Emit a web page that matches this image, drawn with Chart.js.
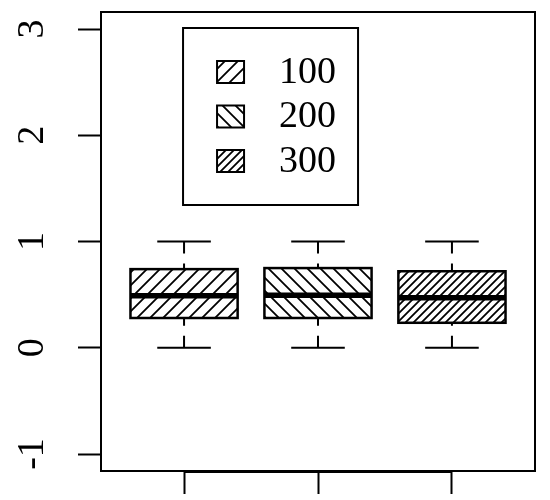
<!DOCTYPE html>
<html>
<head>
<meta charset="utf-8">
<script src="https://cdn.jsdelivr.net/npm/chart.js@4"></script>
<style>
  html, body { margin: 0; padding: 0; background: #fff; }
  #wrap { width: 550px; height: 500px; }
</style>
</head>
<body>
<div id="wrap"><canvas id="myChart" width="550" height="500"></canvas></div>
<script>
// box plot values
const groups = ['100', '200', '300'];
const lower = [0, 0, 0];
const q1 = [0.28, 0.28, 0.235];
const median = [0.49, 0.495, 0.47];
const q3 = [0.74, 0.75, 0.72];
const upper = [1, 1, 1];
const yTicks = [-1, 0, 1, 2, 3];

const FONT = '"Liberation Serif", "DejaVu Serif", serif';

// hatch fills like R's density/angle
function hatch(step, dir) {
  const c = document.createElement('canvas');
  c.width = step; c.height = step;
  const g = c.getContext('2d');
  g.fillStyle = '#fff';
  g.fillRect(0, 0, step, step);
  g.strokeStyle = '#000';
  g.lineWidth = 1.8;
  g.beginPath();
  if (dir > 0) {
    g.moveTo(0, step); g.lineTo(step, 0);
    g.moveTo(-2, 2); g.lineTo(2, -2);
    g.moveTo(step - 2, step + 2); g.lineTo(step + 2, step - 2);
  } else {
    g.moveTo(0, 0); g.lineTo(step, step);
    g.moveTo(-2, step - 2); g.lineTo(2, step + 2);
    g.moveTo(step - 2, -2); g.lineTo(step + 2, 2);
  }
  g.stroke();
  return g.createPattern(c, 'repeat');
}

const ctx = document.getElementById('myChart').getContext('2d');
const fills = [hatch(13, 1), hatch(13, -1), hatch(8, 1)];

// whiskers, medians, box outlines, frame, rotated y labels and legend
const boxExtras = {
  id: 'boxExtras',
  afterDatasetsDraw(chart) {
    const c = chart.ctx;
    const xs = chart.scales.x, ys = chart.scales.y;
    const area = chart.chartArea;
    const bars = chart.getDatasetMeta(0).data;
    c.save();
    c.strokeStyle = '#000';
    groups.forEach((g, i) => {
      const x = xs.getPixelForValue(i + 1);
      const half = bars[i].width / 2;
      const cap = xs.getPixelForValue(i + 1.2) - x;
      // dashed whiskers, drawn from the ends toward the box
      c.lineWidth = 2;
      c.setLineDash([12, 10]);
      c.beginPath();
      c.moveTo(x, ys.getPixelForValue(upper[i]));
      c.lineTo(x, ys.getPixelForValue(q3[i]));
      c.moveTo(x, ys.getPixelForValue(lower[i]));
      c.lineTo(x, ys.getPixelForValue(q1[i]));
      c.stroke();
      c.setLineDash([]);
      // caps
      c.beginPath();
      c.moveTo(x - cap, ys.getPixelForValue(upper[i]));
      c.lineTo(x + cap, ys.getPixelForValue(upper[i]));
      c.moveTo(x - cap, ys.getPixelForValue(lower[i]));
      c.lineTo(x + cap, ys.getPixelForValue(lower[i]));
      c.stroke();
      // box outline
      c.lineWidth = 2.5;
      const top = ys.getPixelForValue(q3[i]);
      const bot = ys.getPixelForValue(q1[i]);
      c.strokeRect(x - half, top, half * 2, bot - top);
      // median
      c.lineWidth = 5.5;
      c.beginPath();
      c.moveTo(x - half, ys.getPixelForValue(median[i]));
      c.lineTo(x + half, ys.getPixelForValue(median[i]));
      c.stroke();
    });

    // plot frame
    c.lineWidth = 2;
    c.strokeRect(area.left, area.top, area.right - area.left, area.bottom - area.top);
    c.beginPath();
    c.moveTo(xs.getPixelForValue(1), area.bottom + 1);
    c.lineTo(xs.getPixelForValue(groups.length), area.bottom + 1);
    c.stroke();

    // y labels, parallel to the axis
    c.fillStyle = '#000';
    c.font = '38px ' + FONT;
    c.textAlign = 'center';
    c.textBaseline = 'middle';
    yTicks.forEach(v => {
      c.save();
      c.translate(33, ys.getPixelForValue(v));
      c.rotate(-Math.PI / 2);
      c.fillText(String(v), 0, 0);
      c.restore();
    });

    // legend box anchored at (1, 3)
    const lx = xs.getPixelForValue(1) - 1;
    const ly = ys.getPixelForValue(3) - 1;
    c.lineWidth = 2;
    c.strokeRect(lx, ly, 175, 177);
    c.textAlign = 'left';
    groups.forEach((g, i) => {
      const cy = ly + 44 + i * 44.5;
      c.fillStyle = fills[i];
      c.fillRect(lx + 34, cy - 11, 27, 22);
      c.lineWidth = 2;
      c.strokeRect(lx + 34, cy - 11, 27, 22);
      c.fillStyle = '#000';
      c.fillText(g, lx + 96, cy + 1);
    });
    c.restore();
  }
};

const myChart = new Chart(ctx, {
  type: 'bar',
  data: {
    labels: groups,
    datasets: [{
      label: 'box',
      data: groups.map((g, i) => ({ x: i + 1, y: [q1[i], q3[i]] })),
      backgroundColor: fills,
      borderWidth: 0,
      borderSkipped: false,
      categoryPercentage: 1,
      barPercentage: 0.8
    }]
  },
  options: {
    responsive: false,
    animation: false,
    devicePixelRatio: 1,
    layout: { padding: { top: 12, right: 15, left: 0, bottom: 0 } },
    plugins: {
      legend: { display: false },
      tooltip: { enabled: false }
    },
    scales: {
      x: {
        type: 'linear',
        offset: false,
        min: 0.38,
        max: 3.62,
        ticks: { stepSize: 1, includeBounds: false, display: false },
        grid: { offset: false, drawOnChartArea: false, tickLength: 23, tickColor: '#000', tickWidth: 2 },
        border: { display: false },
        afterFit(scale) { scale.height = 29; }
      },
      y: {
        min: -1.16,
        max: 3.16,
        ticks: { stepSize: 1, includeBounds: false, display: false },
        grid: { drawOnChartArea: false, tickLength: 23, tickColor: '#000', tickWidth: 2 },
        border: { display: false },
        afterFit(scale) { scale.width = 101; }
      }
    }
  },
  plugins: [boxExtras]
});
</script>
</body>
</html>
